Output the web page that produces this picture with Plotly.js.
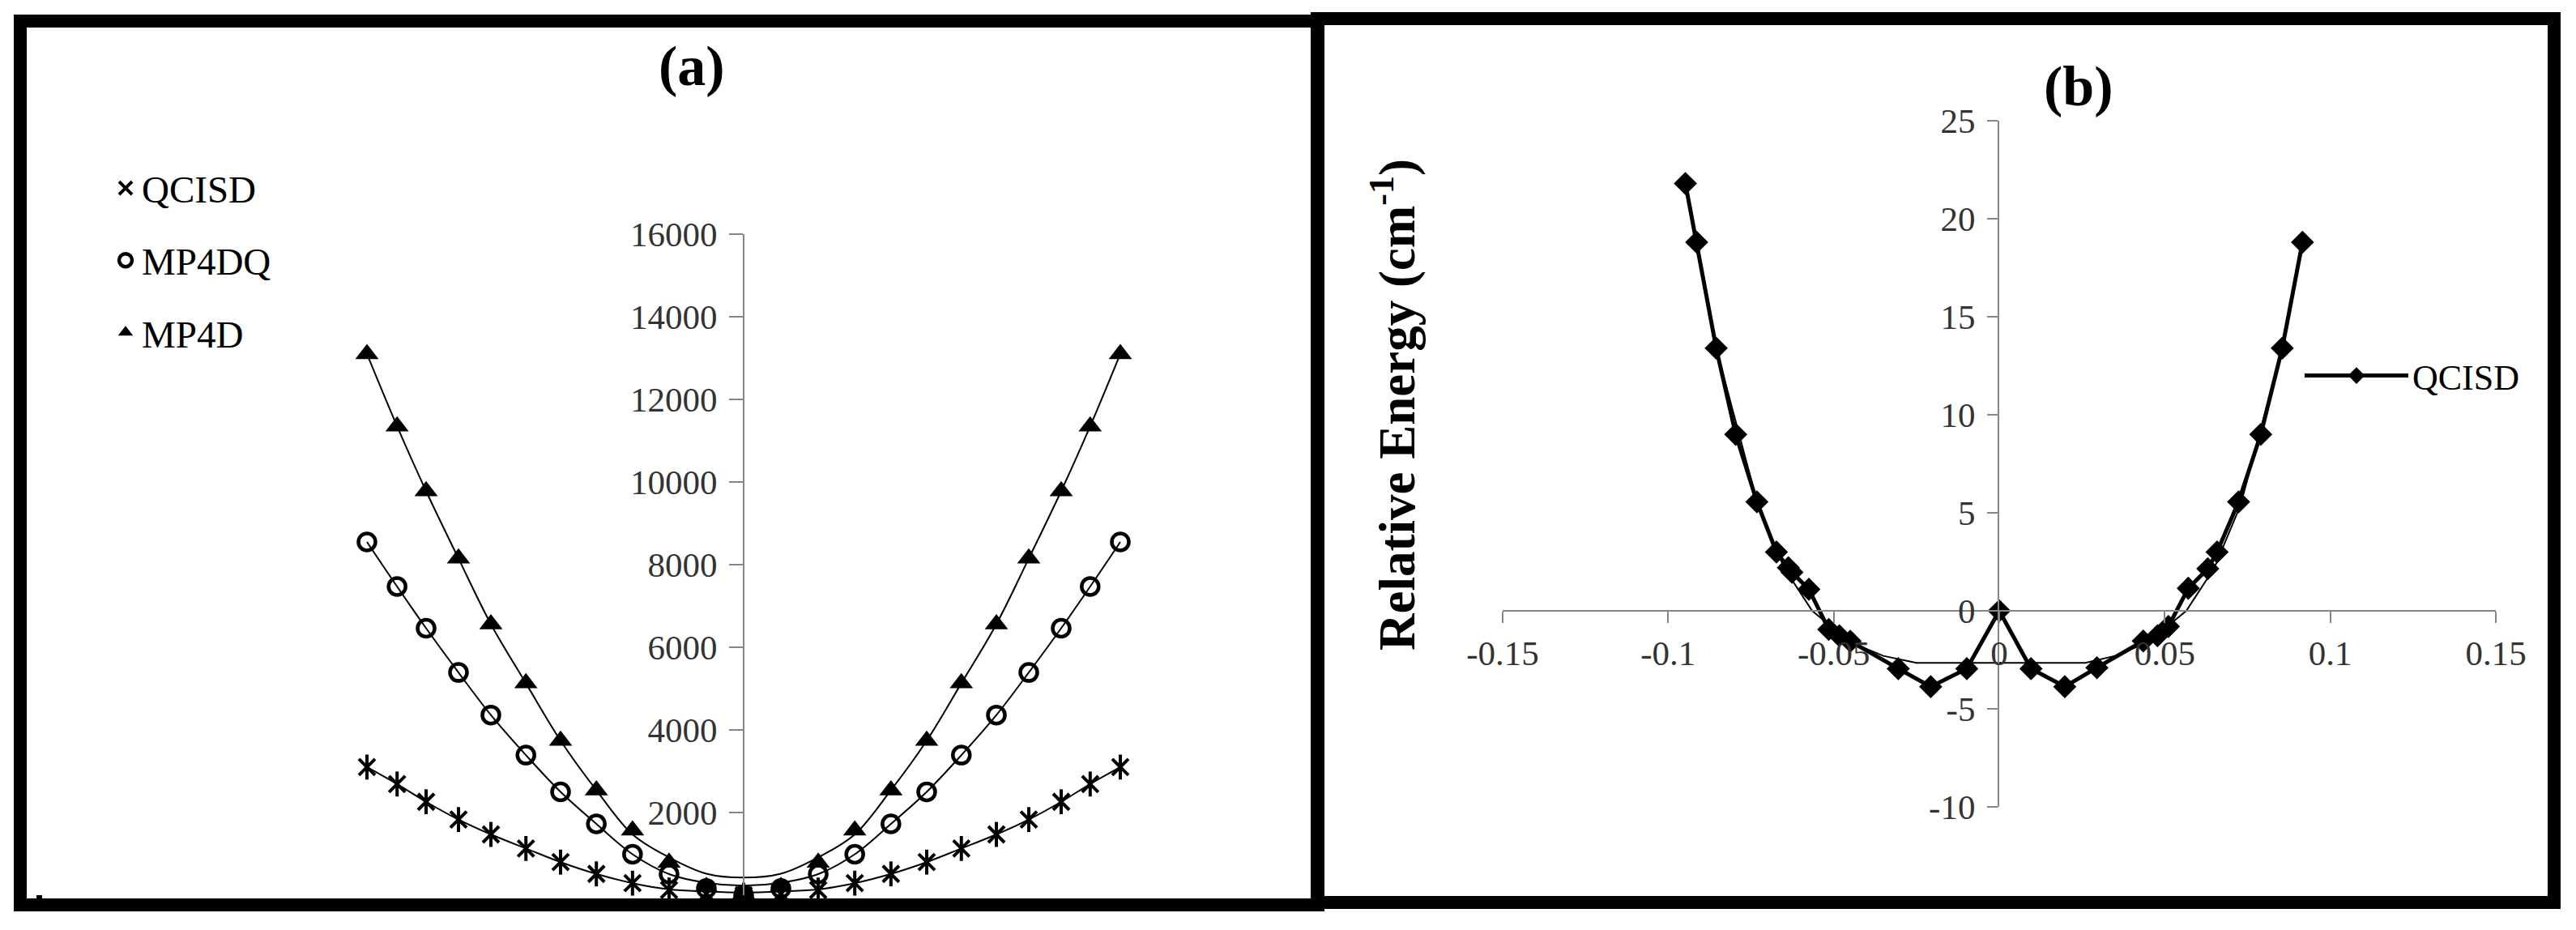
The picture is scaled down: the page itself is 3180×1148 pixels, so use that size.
<!DOCTYPE html>
<html><head><meta charset="utf-8">
<script src="https://cdn.plot.ly/plotly-3.0.1.min.js"></script>
<style>html,body{margin:0;padding:0;background:#fff}#chart{width:3180px;height:1148px}</style>
</head><body><div id="chart"></div><script>
// ---------- Panel (a) data ----------
const xA = [-1.0,-0.92,-0.843,-0.757,-0.671,-0.578,-0.486,-0.391,-0.295,-0.198,-0.099,0,0.099,0.198,0.295,0.391,0.486,0.578,0.671,0.757,0.843,0.92,1.0];
const qcisdA = [3100,2690,2260,1830,1470,1130,800,515,290,125,35,0,35,125,290,515,800,1130,1470,1830,2260,2690,3100];
const mp4dqA = [8550,7470,6460,5390,4360,3390,2500,1725,990,510,160,0,160,510,990,1725,2500,3390,4360,5390,6460,7470,8550];
const mp4dA = [13100,11350,9780,8150,6560,5130,3740,2540,1570,790,200,30,200,790,1570,2540,3740,5130,6560,8150,9780,11350,13100];
const qcisdFitA = [3100,2690,2260,1830,1470,1130,800,515,290,140,90,65,90,140,290,515,800,1130,1470,1830,2260,2690,3100];
const mp4dqFitA = [8550,7470,6460,5390,4360,3390,2500,1725,990,510,300,230,300,510,990,1725,2500,3390,4360,5390,6460,7470,8550];
const mp4dFitA = [13100,11350,9780,8150,6560,5130,3740,2540,1470,915,520,425,520,915,1470,2540,3740,5130,6560,8150,9780,11350,13100];
const yTicksA = [2000,4000,6000,8000,10000,12000,14000,16000];
const yTickTextA = ['2000','4000','6000','8000','10000','12000','14000','16000'];

// ---------- Panel (b) data ----------
const xB = [-0.0948,-0.0914,-0.0855,-0.0796,-0.0732,-0.0673,-0.0637,-0.0626,-0.0575,-0.0515,-0.0483,-0.0450,-0.0305,-0.0207,-0.0098,0,0.0096,0.0198,0.0295,0.0435,0.0478,0.0511,0.0571,0.0630,0.0658,0.0723,0.0790,0.0855,0.0916];
const yB = [21.8,18.8,13.4,9.0,5.56,3.0,2.2,1.96,1.1,-0.95,-1.27,-1.55,-2.95,-3.87,-2.95,0,-2.95,-3.87,-2.9,-1.54,-1.27,-0.8,1.15,2.15,3.0,5.56,9.0,13.4,18.8];
const xFitB = [-0.0948,-0.0855,-0.0729,-0.0650,-0.0565,-0.045,-0.035,-0.025,0,0.026,0.035,0.045,0.0565,0.0650,0.0729,0.0855,0.0916];
const yFitB = [21.8,13.4,5.4,2.2,0,-1.6,-2.3,-2.65,-2.65,-2.65,-2.3,-1.6,0,2.2,5.4,13.4,18.8];
const xTicksB = [-0.15,-0.1,-0.05,0,0.05,0.1,0.15];
const xTickTextB = ['-0.15','-0.1','-0.05','0','0.05','0.1','0.15'];
const yTicksB = [-10,-5,0,5,10,15,20,25];
const yTickTextB = ['-10','-5','0','5','10','15','20','25'];

const W = 3180, H = 1148;
const px = v => v / W, py = v => 1 - v / H;
const FONT = '"Liberation Serif", "Times New Roman", Times, serif';

const traces = [
  {x:xA, y:qcisdFitA, xaxis:'x', yaxis:'y', mode:'lines', line:{color:'#000', width:2, shape:'spline'}, showlegend:false, cliponaxis:false, hoverinfo:'skip'},
  {x:xA, y:mp4dqFitA, xaxis:'x', yaxis:'y', mode:'lines', line:{color:'#000', width:2, shape:'spline'}, showlegend:false, cliponaxis:false, hoverinfo:'skip'},
  {x:xA, y:mp4dFitA, xaxis:'x', yaxis:'y', mode:'lines', line:{color:'#000', width:2, shape:'spline'}, showlegend:false, cliponaxis:false, hoverinfo:'skip'},
  {x:xA, y:qcisdA, xaxis:'x', yaxis:'y', mode:'markers', name:'QCISD', legendgroup:'q',
    marker:{symbol:'x-thin-open', size:20, color:'#000', line:{color:'#000', width:4}}, cliponaxis:false},
  {x:xA, y:qcisdA, xaxis:'x', yaxis:'y', mode:'markers', showlegend:false, legendgroup:'q',
    marker:{symbol:'line-ns-open', size:22, color:'#000', line:{color:'#000', width:4}}, cliponaxis:false},
  {x:xA, y:mp4dqA, xaxis:'x', yaxis:'y', mode:'markers', name:'MP4DQ', legendgroup:'dq',
    marker:{symbol:'circle-open', size:21, color:'#000', line:{color:'#000', width:4.5}}, cliponaxis:false},
  {x:xA, y:mp4dA, xaxis:'x', yaxis:'y', mode:'markers', name:'MP4D', legendgroup:'d',
    marker:{symbol:'triangle-up', size:25, color:'#000'}, cliponaxis:false},
  {x:xFitB, y:yFitB, xaxis:'x2', yaxis:'y2', mode:'lines', line:{color:'#000', width:2}, showlegend:false, hoverinfo:'skip'},
  {x:xB, y:yB, xaxis:'x2', yaxis:'y2', mode:'lines+markers', name:'QCISD', legend:'legend2',
    line:{color:'#000', width:5}, marker:{symbol:'diamond', size:22, color:'#000'}}
];

const axCommon = {showgrid:false, zeroline:false, showline:true, linecolor:'#868686', linewidth:2,
  ticks:'outside', tickcolor:'#868686', tickwidth:2, tickfont:{family:FONT, size:43, color:'#333'}};

const layout = {
  width:W, height:H, margin:{l:0,r:0,t:0,b:0},
  paper_bgcolor:'#fff', plot_bgcolor:'rgba(0,0,0,0)',
  font:{family:FONT, color:'#000'},
  xaxis:{domain:[px(33), px(1617)], range:[(33-918)/465, (1617-918)/465], visible:false, fixedrange:true},
  yaxis:Object.assign({}, axCommon, {domain:[py(1105), py(289)], range:[0,16000], anchor:'free', position:px(918),
    tickvals:yTicksA, ticktext:yTickTextA, ticklen:17, ticklabelstandoff:6}),
  xaxis2:Object.assign({}, axCommon, {domain:[px(1855), px(3081)], range:[-0.15,0.15], anchor:'free', position:py(754),
    tickvals:xTicksB, ticktext:xTickTextB, ticklen:14}),
  yaxis2:Object.assign({}, axCommon, {domain:[py(996), py(149)], range:[-10,25], anchor:'free', position:px(2467),
    tickvals:yTicksB, ticktext:yTickTextB, ticklen:13, ticklabelstandoff:6}),
  legend:{x:px(135), y:py(195), xanchor:'left', yanchor:'top', bgcolor:'rgba(0,0,0,0)',
    font:{family:FONT, size:47, color:'#000'}, traceorder:'grouped', tracegroupgap:25},
  legend2:{x:px(2840), y:py(464), xanchor:'left', yanchor:'middle', bgcolor:'rgba(0,0,0,0)',
    font:{family:FONT, size:44, color:'#000'}, itemwidth:128},
  annotations:[
    {text:'<b>(a)</b>', x:px(854), y:py(82), xref:'paper', yref:'paper', xanchor:'center', yanchor:'middle', showarrow:false, font:{family:FONT, size:70, color:'#000'}},
    {text:'<b>(b)</b>', x:px(2566), y:py(106), xref:'paper', yref:'paper', xanchor:'center', yanchor:'middle', showarrow:false, font:{family:FONT, size:70, color:'#000'}},
    {text:'<b>Relative Energy (cm<sup>-1</sup>)</b>', textangle:-90, x:px(1721), y:py(500), xref:'paper', yref:'paper',
      xanchor:'center', yanchor:'middle', showarrow:false, font:{family:FONT, size:63, color:'#000'}}
  ],
  shapes:[
    {type:'rect', xref:'paper', yref:'paper', x0:px(25), x1:px(1627), y0:py(26), y1:py(1117), line:{color:'#000', width:16}, layer:'above'},
    {type:'rect', xref:'paper', yref:'paper', x0:px(1626), x1:px(3153), y0:py(23), y1:py(1114), line:{color:'#000', width:16}, layer:'above'},
    {type:'rect', xref:'paper', yref:'paper', x0:px(45), x1:px(52), y0:py(1110), y1:py(1105), fillcolor:'#000', line:{width:0}, layer:'above'}
  ]
};

Plotly.newPlot('chart', traces, layout, {displayModeBar:false, staticPlot:true});
</script></body></html>
